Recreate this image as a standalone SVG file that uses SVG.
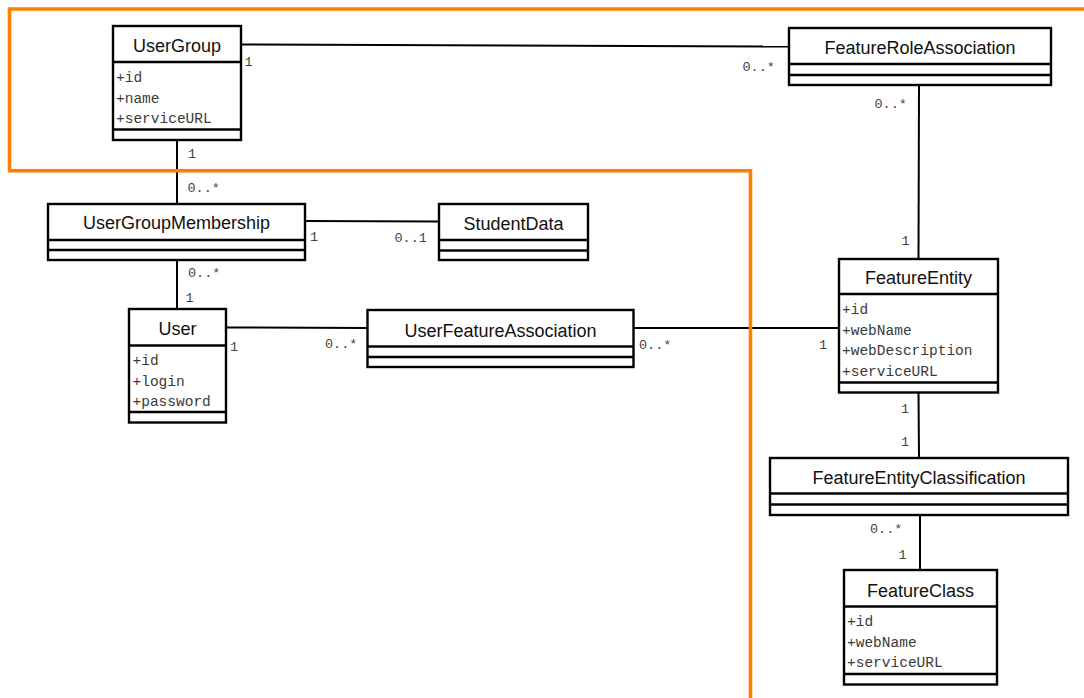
<svg xmlns="http://www.w3.org/2000/svg" width="1084" height="698" viewBox="0 0 1084 698">
  <style>
    .box { fill: #ffffff; stroke: #000000; stroke-width: 2.4; }
    .sep { stroke: #000000; stroke-width: 2.4; }
    .title { font-family: "Liberation Sans", Arial, sans-serif; font-size: 18px; fill: #111111; text-anchor: middle; }
    .attr { font-family: "Liberation Mono", "Courier New", monospace; font-size: 14.5px; fill: #3a3a3a; }
    .mult { font-family: "Liberation Mono", "Courier New", monospace; font-size: 13.5px; fill: #444444; }
    .conn { stroke: #000000; stroke-width: 2; fill: none; }
    .zone { stroke: #ff8000; stroke-width: 3.6; fill: none; }
  </style>
  <rect x="0" y="0" width="1084" height="698" fill="#ffffff"/>

  <!-- associations -->
  <g id="connectors">
    <line class="conn" x1="241" y1="44.5" x2="789" y2="46.5"/>
    <line class="conn" x1="177" y1="140" x2="177" y2="204"/>
    <line class="conn" x1="305" y1="221" x2="439" y2="221.5"/>
    <line class="conn" x1="177" y1="260" x2="177" y2="309"/>
    <line class="conn" x1="226" y1="327.5" x2="367.5" y2="328"/>
    <line class="conn" x1="633.5" y1="328" x2="839" y2="328"/>
    <line class="conn" x1="919" y1="85" x2="918.5" y2="259"/>
    <line class="conn" x1="918.5" y1="392.5" x2="919" y2="458"/>
    <line class="conn" x1="920" y1="515" x2="920" y2="570"/>
    <!-- multiplicities -->
    <text class="mult" x="244.5" y="66">1</text>
    <text class="mult" x="742.5" y="71">0..*</text>
    <text class="mult" x="874.5" y="108">0..*</text>
    <text class="mult" x="188" y="158">1</text>
    <text class="mult" x="187.5" y="192">0..*</text>
    <text class="mult" x="310" y="241">1</text>
    <text class="mult" x="394.5" y="242">0..1</text>
    <text class="mult" x="188" y="277">0..*</text>
    <text class="mult" x="185.5" y="302">1</text>
    <text class="mult" x="230" y="351">1</text>
    <text class="mult" x="325" y="348">0..*</text>
    <text class="mult" x="639" y="349">0..*</text>
    <text class="mult" x="819" y="349">1</text>
    <text class="mult" x="901.5" y="245">1</text>
    <text class="mult" x="901" y="413">1</text>
    <text class="mult" x="901" y="446">1</text>
    <text class="mult" x="870" y="533">0..*</text>
    <text class="mult" x="898.5" y="559">1</text>
  </g>

  <g id="UserGroup">
    <rect class="box" x="113" y="26" width="128" height="114"/>
    <line class="sep" x1="113" y1="62" x2="241" y2="62"/>
    <line class="sep" x1="113" y1="129.5" x2="241" y2="129.5"/>
    <text class="title" x="177" y="52">UserGroup</text>
    <text class="attr" x="116" y="82">+id</text>
    <text class="attr" x="116" y="102.5">+name</text>
    <text class="attr" x="116" y="123">+serviceURL</text>
  </g>

  <g id="FeatureRoleAssociation">
    <rect class="box" x="789" y="28" width="262" height="57"/>
    <line class="sep" x1="789" y1="64" x2="1051" y2="64"/>
    <line class="sep" x1="789" y1="75" x2="1051" y2="75"/>
    <text class="title" x="920" y="53.5">FeatureRoleAssociation</text>
  </g>

  <g id="UserGroupMembership">
    <rect class="box" x="48" y="204" width="257" height="56"/>
    <line class="sep" x1="48" y1="240" x2="305" y2="240"/>
    <line class="sep" x1="48" y1="250" x2="305" y2="250"/>
    <text class="title" x="176.5" y="229">UserGroupMembership</text>
  </g>

  <g id="StudentData">
    <rect class="box" x="439" y="204" width="149" height="56"/>
    <line class="sep" x1="439" y1="240" x2="588" y2="240"/>
    <line class="sep" x1="439" y1="250.5" x2="588" y2="250.5"/>
    <text class="title" x="513.5" y="229.5">StudentData</text>
  </g>

  <g id="User">
    <rect class="box" x="129" y="309" width="97" height="113.5"/>
    <line class="sep" x1="129" y1="345.5" x2="226" y2="345.5"/>
    <line class="sep" x1="129" y1="412" x2="226" y2="412"/>
    <text class="title" x="177.5" y="335">User</text>
    <text class="attr" x="132.5" y="365">+id</text>
    <text class="attr" x="132.5" y="385.5">+login</text>
    <text class="attr" x="132.5" y="406">+password</text>
  </g>

  <g id="UserFeatureAssociation">
    <rect class="box" x="367.5" y="310" width="266" height="57"/>
    <line class="sep" x1="367.5" y1="346.5" x2="633.5" y2="346.5"/>
    <line class="sep" x1="367.5" y1="357" x2="633.5" y2="357"/>
    <text class="title" x="500.5" y="336.5">UserFeatureAssociation</text>
  </g>

  <g id="FeatureEntity">
    <rect class="box" x="839" y="259" width="159" height="133.5"/>
    <line class="sep" x1="839" y1="294" x2="998" y2="294"/>
    <line class="sep" x1="839" y1="382.5" x2="998" y2="382.5"/>
    <text class="title" x="918.5" y="284">FeatureEntity</text>
    <text class="attr" x="842" y="314">+id</text>
    <text class="attr" x="842" y="334.5">+webName</text>
    <text class="attr" x="842" y="355">+webDescription</text>
    <text class="attr" x="842" y="375.5">+serviceURL</text>
  </g>

  <g id="FeatureEntityClassification">
    <rect class="box" x="770" y="458" width="298" height="57"/>
    <line class="sep" x1="770" y1="493.5" x2="1068" y2="493.5"/>
    <line class="sep" x1="770" y1="504.5" x2="1068" y2="504.5"/>
    <text class="title" x="919" y="484">FeatureEntityClassification</text>
  </g>

  <g id="FeatureClass">
    <rect class="box" x="844" y="570" width="153" height="114.5"/>
    <line class="sep" x1="844" y1="606.5" x2="997" y2="606.5"/>
    <line class="sep" x1="844" y1="674" x2="997" y2="674"/>
    <text class="title" x="920.5" y="597">FeatureClass</text>
    <text class="attr" x="847" y="626">+id</text>
    <text class="attr" x="847" y="646.5">+webName</text>
    <text class="attr" x="847" y="667">+serviceURL</text>
  </g>

  <!-- boundary outline -->
  <g id="boundary">
    <polyline class="zone" points="1086,9 9.5,9 9.5,170.8 750.5,170.8 750.5,700"/>
  </g>
</svg>
